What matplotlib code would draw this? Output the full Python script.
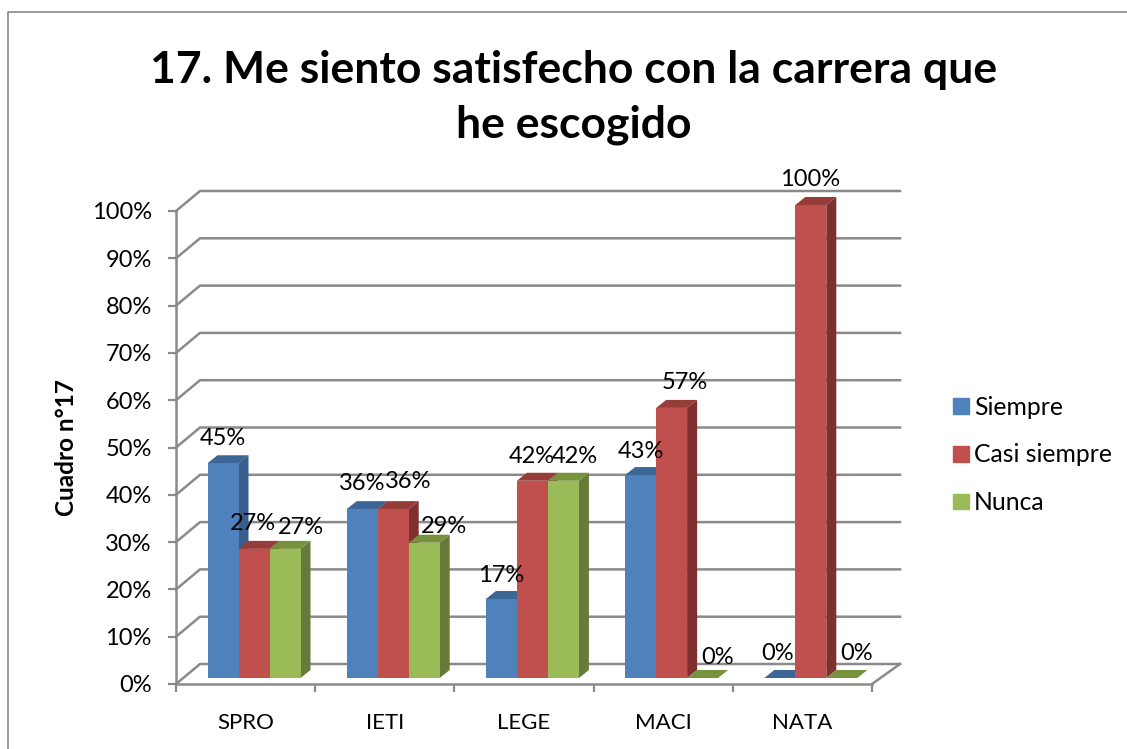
import numpy as np
import matplotlib
matplotlib.use("Agg")
import matplotlib.pyplot as plt
from matplotlib.lines import Line2D
from matplotlib.patches import Patch, Polygon

plt.rcParams['font.family'] = ['Lato', 'DejaVu Sans']

categories = ['SPRO', 'IETI', 'LEGE', 'MACI', 'NATA']
series_names = ['Siempre', 'Casi siempre', 'Nunca']
siempre = [45.4, 35.7, 16.7, 42.9, 0]
casi_siempre = [27.3, 35.7, 41.7, 57.1, 100]
nunca = [27.3, 28.6, 41.7, 0, 0]
yticks = np.arange(0, 101, 10)

front_colors = ['#4F81BD', '#C0504D', '#9BBB59']
side_colors = ['#385D8A', '#7F2F2E', '#667A39']
top_colors = ['#3C6696', '#963D3A', '#76923C']

# nudges for the data labels, in pixels from the bar top
label_offsets = [
    [(0, 25), (-1, 25), (16, 21)],
    [(0, 26), (15, 28), (20, 16)],
    [(0, 24), (-1, 24), (11, 24)],
    [(0, 24), (13, 25), (15, 21)],
    [(-2, 24), (-1, 25), (15, 24)],
]

W, H = 1127, 749
fig = plt.figure(figsize=(W / 100, H / 100), dpi=100)
ax = fig.add_axes([176 / W, 1 - 684 / H, 696 / W, 473 / H])
ax.set_xlim(0, 5)
ax.set_ylim(0, 100)

# pixel sizes turned into data units
px = 5 / 696
py = 100 / 473
wall_dx, wall_dy = 24 * px, 20 * py
right_dx = 28 * px
bar_dx, bar_dy = 10 * px, 8 * py
bar_w = 31 * px
bar_x0 = 31.5 * px
bar_base = 6 * py
grid_c = '#8A8A8A'

for y in yticks:
    ax.plot([0, wall_dx, 5 + right_dx], [y, y + wall_dy, y + wall_dy],
            color=grid_c, lw=1.8, clip_on=False, zorder=1)
ax.plot([5, 5 + right_dx], [0, wall_dy], color=grid_c, lw=1.8, clip_on=False, zorder=1)

z = 3
for i in range(len(categories)):
    vals = [siempre[i], casi_siempre[i], nunca[i]]
    for j, v in enumerate(vals):
        x0 = i + bar_x0 + j * bar_w
        top = bar_base + v
        ax.bar(x0, v, bar_w, bottom=bar_base, align='edge', color=front_colors[j],
               zorder=z + 1, clip_on=False)
        ax.add_patch(Polygon([(x0 + bar_w, bar_base), (x0 + bar_w + bar_dx, bar_base + bar_dy),
                              (x0 + bar_w + bar_dx, top + bar_dy), (x0 + bar_w, top)],
                             color=side_colors[j], lw=0, zorder=z, clip_on=False))
        ax.add_patch(Polygon([(x0, top), (x0 + bar_dx, top + bar_dy),
                              (x0 + bar_w + bar_dx, top + bar_dy), (x0 + bar_w, top)],
                             color=top_colors[j], lw=0, zorder=z, clip_on=False))
        z += 2

for i in range(len(categories)):
    vals = [siempre[i], casi_siempre[i], nunca[i]]
    for j, v in enumerate(vals):
        ax.annotate('%.0f%%' % v, (i + bar_x0 + (j + 0.5) * bar_w, bar_base + v),
                    xytext=label_offsets[i][j], textcoords='offset pixels',
                    ha='center', va='center', fontsize=17, color='black',
                    zorder=500, annotation_clip=False)

for s in ['top', 'right']:
    ax.spines[s].set_visible(False)
for s in ['left', 'bottom']:
    ax.spines[s].set_color(grid_c)
    ax.spines[s].set_linewidth(1.8)
ax.patch.set_alpha(0)

ax.set_yticks(yticks)
ax.set_yticklabels(['%d%%' % y for y in yticks], fontsize=17)
ax.tick_params(axis='y', color=grid_c, width=1.6, length=5.5, pad=12)
ax.set_xticks(np.arange(0, 6))
ax.set_xticklabels([])
ax.set_xticks(np.arange(0.5, 5), labels=categories, minor=True, fontsize=16)
ax.tick_params(axis='x', which='major', color=grid_c, width=1.6, length=5.5)
ax.tick_params(axis='x', which='minor', length=0, pad=21)

fig.text(574 / W, 1 - 70 / H, '17. Me siento satisfecho con la carrera que', fontsize=32,
         fontweight='bold', ha='center', va='center')
fig.text(574 / W, 1 - 125 / H, 'he escogido', fontsize=32, fontweight='bold', ha='center', va='center')
fig.text(67 / W, 1 - 448 / H, 'Cuadro n°17', fontsize=17.5, fontweight='bold', rotation=90,
         ha='center', va='center')

handles = [Patch(color=c) for c in front_colors]
fig.legend(handles, series_names, loc='center left', bbox_to_anchor=(953 / W, 1 - 455 / H),
           frameon=False, fontsize=17.8, handlelength=0.65, handleheight=0.6, handletextpad=0.2,
           labelspacing=1.0, borderpad=0, borderaxespad=0)

# outer frame of the chart, only top and left show
fig.add_artist(Line2D([8 / W, 8 / W, 1], [0, 1 - 12 / H, 1 - 12 / H], color='#8A8A8A', lw=1.2))

fig.savefig('out.png', dpi=100)
